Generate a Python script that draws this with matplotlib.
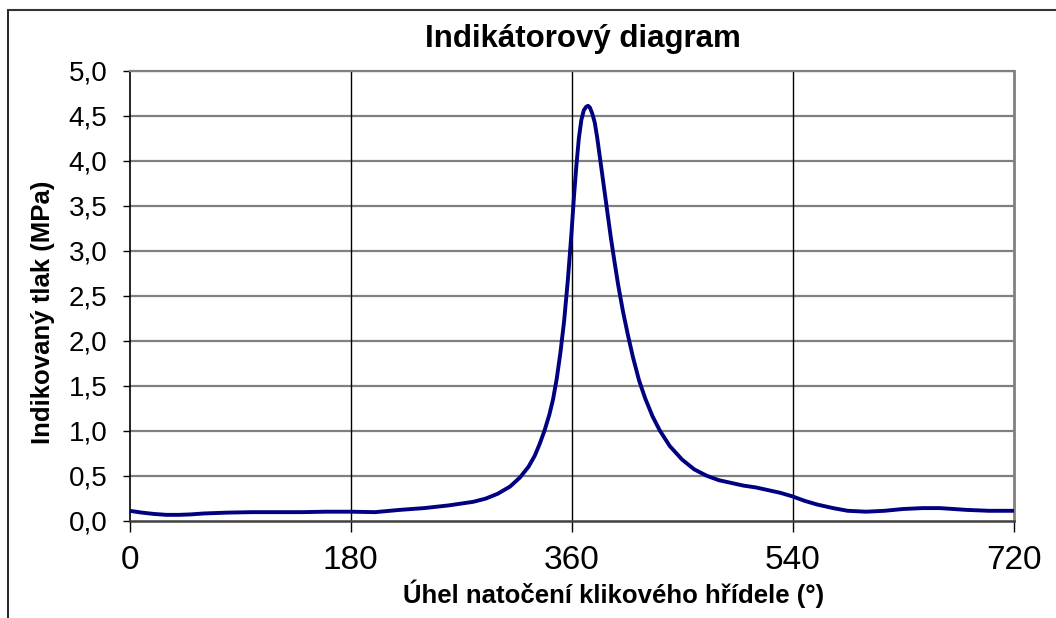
import matplotlib
matplotlib.use("Agg")
import matplotlib.pyplot as plt
from matplotlib.lines import Line2D

# ---- data ----
angle = [0, 10, 20, 30, 40, 50, 60, 80, 100, 120, 140, 160, 180, 200, 220, 240,
         260, 280, 290, 300, 310, 318, 325, 330, 334, 338, 342, 345, 348, 351, 354,
         357, 360, 362, 364, 366, 368, 370, 372, 373.5, 375, 377, 379, 381, 383,
         386, 389, 392, 395, 398, 402, 406, 410, 415, 420, 426, 432, 440, 450,
         460, 470, 480, 490, 500, 510, 520, 530, 540, 550, 560, 573, 585, 600,
         615, 630, 646, 660, 682, 700, 720]
pressure = [0.11, 0.09, 0.075, 0.065, 0.065, 0.07, 0.08, 0.09, 0.095, 0.095, 0.095,
            0.10, 0.10, 0.095, 0.12, 0.14, 0.17, 0.21, 0.245, 0.30, 0.38, 0.48, 0.60,
            0.72, 0.85, 1.00, 1.18, 1.35, 1.58, 1.87, 2.22, 2.67, 3.20, 3.60, 3.95,
            4.25, 4.45, 4.56, 4.60, 4.61, 4.59, 4.52, 4.42, 4.25, 4.05, 3.75, 3.45,
            3.15, 2.88, 2.62, 2.32, 2.06, 1.82, 1.56, 1.36, 1.16, 1.00, 0.83, 0.68,
            0.57, 0.50, 0.45, 0.42, 0.39, 0.37, 0.34, 0.31, 0.27, 0.22, 0.18, 0.14,
            0.11, 0.10, 0.11, 0.13, 0.14, 0.14, 0.12, 0.11, 0.11]

x_ticks = [0, 180, 360, 540, 720]
y_ticks = [0.0, 0.5, 1.0, 1.5, 2.0, 2.5, 3.0, 3.5, 4.0, 4.5, 5.0]
y_tick_labels = [f"{v:.1f}".replace(".", ",") for v in y_ticks]

title = "Indikátorový diagram"
xlabel = "Úhel natočení klikového hřídele (°)"
ylabel = "Indikovaný tlak (MPa)"

plt.rcParams['font.family'] = ['Liberation Sans', 'DejaVu Sans']

W, H = 1056, 618
fig = plt.figure(figsize=(W / 100, H / 100), dpi=100)
fig.patch.set_facecolor("white")

# outer chart frame (extends past the image on the right/bottom)
fig.add_artist(Line2D([8 / W, 8 / W], [0, 1 - 10 / H], transform=fig.transFigure,
                      color="black", lw=1.2))
fig.add_artist(Line2D([8 / W, 1], [1 - 10 / H, 1 - 10 / H], transform=fig.transFigure,
                      color="#333333", lw=1.5))

left, right, top, bottom = 129.5, 1013.5, 70.7, 520.7
ax = fig.add_axes([left / W, 1 - bottom / H, (right - left) / W, (bottom - top) / H])

ax.plot(angle, pressure, color="#000080", lw=2.8, solid_capstyle="round",
        solid_joinstyle="round", zorder=3)

ax.set_xlim(0, 720)
ax.set_ylim(0, 5)
ax.set_xticks(x_ticks)
ax.set_xticklabels([str(v) for v in x_ticks], fontsize=24)
ax.set_yticks(y_ticks)
ax.set_yticklabels(y_tick_labels, fontsize=20)

# grid: horizontal grey, vertical black
for v in y_ticks[1:]:
    ax.axhline(v, color="#808080", lw=1.6, zorder=1)
for v in x_ticks[1:-1]:
    ax.axvline(v, color="black", lw=1.0, zorder=1)

ax.spines["left"].set_color("black")
ax.spines["left"].set_linewidth(1.2)
ax.spines["bottom"].set_color("#404040")
ax.spines["bottom"].set_linewidth(1.8)
ax.spines["top"].set_color("#808080")
ax.spines["top"].set_linewidth(1.6)
ax.spines["right"].set_color("#808080")
ax.spines["right"].set_linewidth(2.0)

ax.tick_params(axis="y", direction="out", length=5, width=1, pad=11, colors="black")
ax.tick_params(axis="x", direction="out", length=8, width=1, pad=9.5, colors="black")

fig.text(583 / W, 1 - 47 / H, title, ha="center", va="baseline",
         fontsize=22.5, fontweight="bold")
fig.text(614 / W, 1 - 603 / H, xlabel, ha="center", va="baseline",
         fontsize=18.5, fontweight="bold")
fig.text(43 / W, 1 - 312 / H, ylabel, ha="center", va="center", rotation=90,
         fontsize=18.5, fontweight="bold")

fig.savefig("out.png", dpi=100, facecolor="white")
